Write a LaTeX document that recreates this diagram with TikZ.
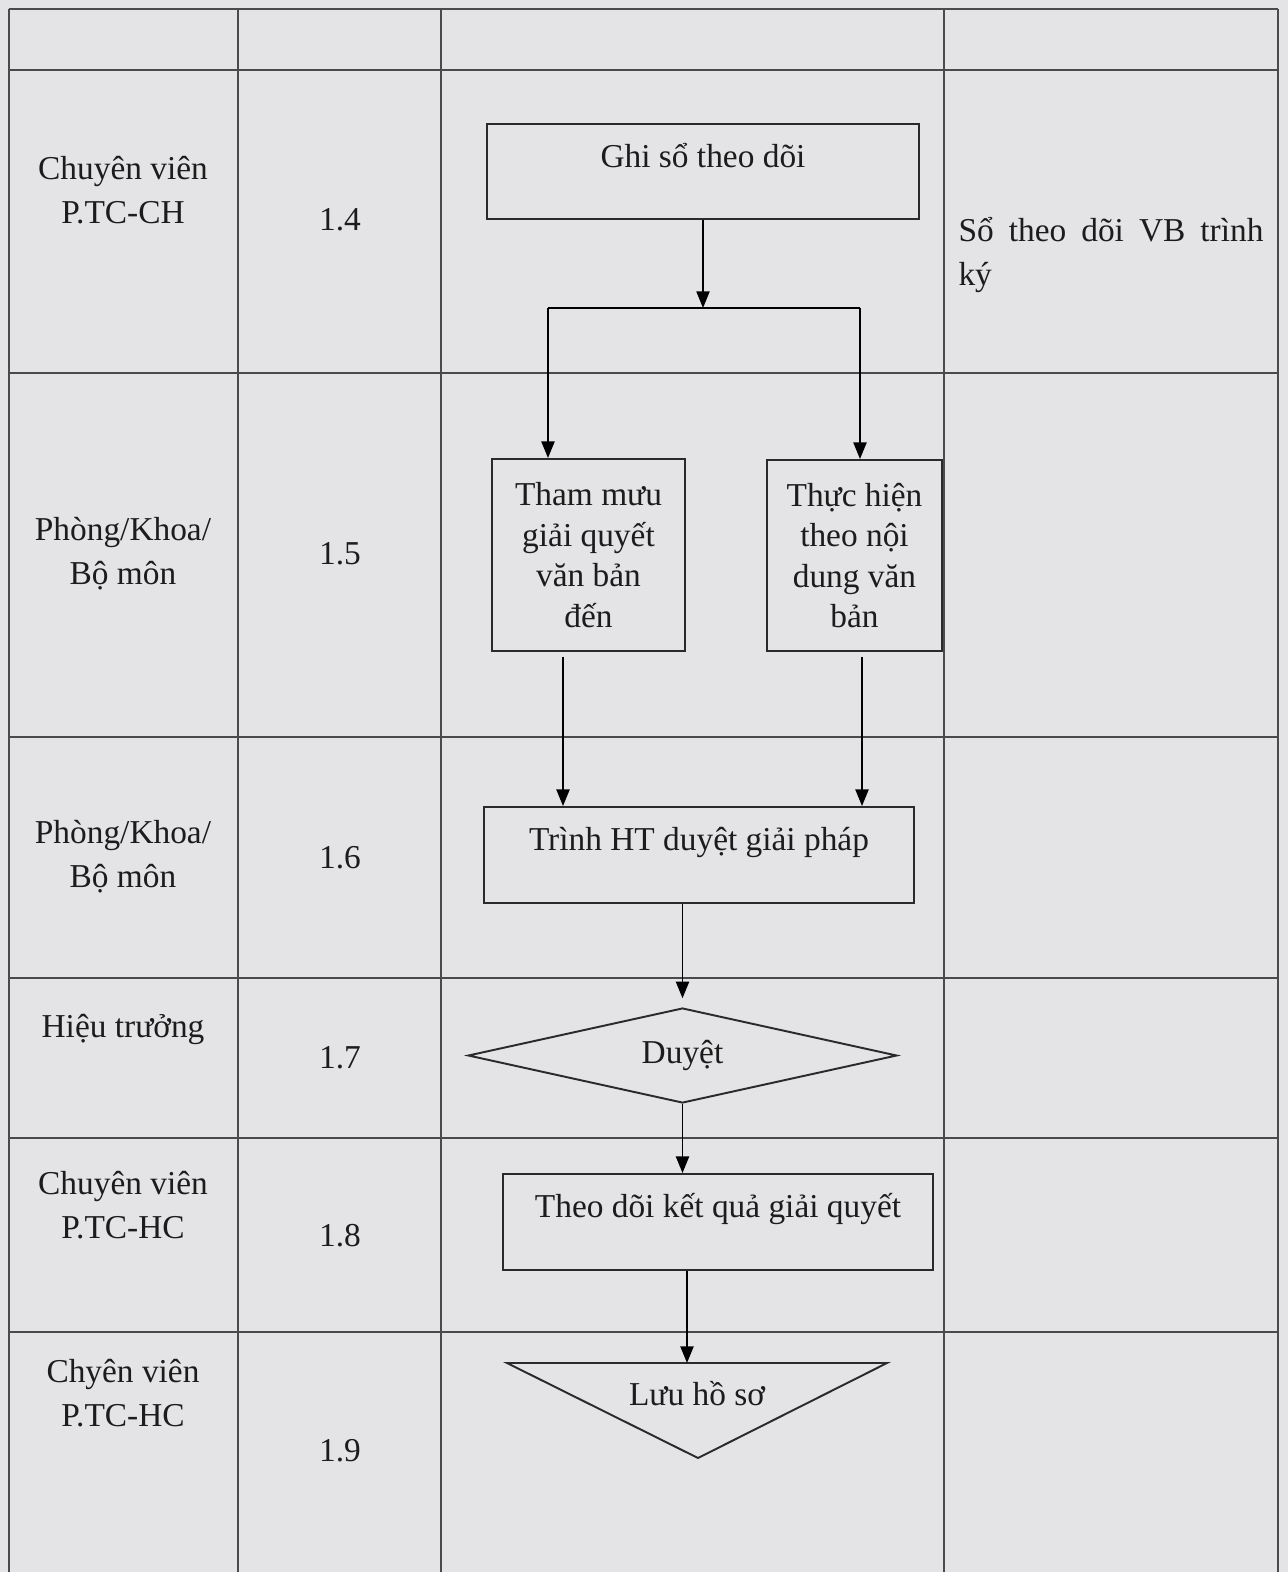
\documentclass[tikz,border=0pt]{standalone}
\usepackage{fontspec}
\setmainfont{Liberation Serif}
\usetikzlibrary{arrows.meta,positioning,shapes.geometric,calc}
\definecolor{scanbg}{HTML}{E4E4E6}
\definecolor{inkline}{HTML}{2A2A2A}
\definecolor{inktext}{HTML}{1C1C1C}
\begin{document}
\begin{tikzpicture}[x=0.02cm, y=-0.02cm,
  >={Triangle[length=9.5pt,width=7.5pt]}, line width=1pt,
  grid/.style={draw=inkline!85, line width=0.9pt},
  shp/.style={draw=inkline, line width=1.1pt},
  box/.style={shp, rectangle, align=center, inner sep=0pt, font=\fontsize{19}{23}\selectfont, text=inktext},
  topbox/.style={box, text height=13pt, text depth=18pt},
  lbl/.style={font=\fontsize{19}{25}\selectfont, align=center, text=inktext, inner sep=0pt}]
\fill[scanbg] (0,0) rectangle (1288,1572);
\useasboundingbox (0,0) rectangle (1288,1572);
% table grid
\foreach \y in {9,70,373,737,978,1138,1332} \draw[grid] (9,\y) -- (1278,\y);
\foreach \x in {9,238,441,944,1278} \draw[grid] (\x,9) -- (\x,1572);
% column 1 and 2
\node[lbl] (who4) at (123,190)  {Chuyên viên\\P.TC-CH};
\node[lbl] (who5) at (123,554)  {Phòng/Khoa/\\Bộ môn};
\node[lbl] (who6) at (123,857)  {Phòng/Khoa/\\Bộ môn};
\node[lbl] (who7) at (123,1029) {Hiệu trưởng};
\node[lbl] (who8) at (123,1205) {Chuyên viên\\P.TC-HC};
\node[lbl] (who9) at (123,1393) {Chyên viên\\P.TC-HC};
\node[lbl] (st4) at (340,220)  {1.4};
\node[lbl] (st5) at (340,554)  {1.5};
\node[lbl] (st6) at (340,858)  {1.6};
\node[lbl] (st7) at (340,1058) {1.7};
\node[lbl] (st8) at (340,1236) {1.8};
\node[lbl] (st9) at (340,1451) {1.9};
% column 4
\node[lbl, text width=6.1cm, align=justify] (doc4) at (1111,255) {Sổ theo dõi VB trình ký};
% flow
\node[topbox, minimum width=8.64cm, minimum height=1.9cm] (ghi) at (703,171.5) {Ghi sổ theo dõi};
\node[box, minimum width=3.86cm, minimum height=3.84cm] (tham) at (588.5,555) {Tham mưu\\giải quyết\\văn bản\\đến};
\node[box, minimum width=3.5cm, minimum height=3.82cm] (thuc) at (854.5,555.5) {Thực hiện\\theo nội\\dung văn\\bản};
\node[topbox, minimum width=8.6cm, minimum height=1.92cm] (trinh) at (699,855) {Trình HT duyệt giải pháp};
\node[box, diamond, aspect=4.5, minimum width=8.58cm, minimum height=1.9cm] (duyet) at (682.5,1055.5) {Duyệt};
\node[topbox, minimum width=8.6cm, minimum height=1.92cm] (theo) at (718,1222) {Theo dõi kết quả giải quyết};
\coordinate (luuL) at (507,1363);
\coordinate (luuR) at (887,1363);
\coordinate (luuB) at (698,1458);
\draw[shp] (luuL) -- (luuR) -- (luuB) -- cycle;
\node[lbl] (luu) at (697,1394) {Lưu hồ sơ};
% connectors
\coordinate (brL) at (548,308);
\coordinate (brR) at (860,308);
\coordinate (colL) at (563,0);
\coordinate (colR) at (862,0);
\coordinate (luuin) at (687,1363);
\draw[->] (ghi) -- (ghi |- brL);
\draw (brL) -- (brR);
\draw[->] (brL) -- (brL |- tham.north);
\draw[->] (brR) -- (brR |- thuc.north);
\draw[->] ([yshift=-3pt]tham.south -| colL) -- (colL |- trinh.north);
\draw[->] ([yshift=-3pt]thuc.south -| colR) -- (colR |- trinh.north);
\draw[->] (trinh.south -| duyet) -- ([yshift=5pt]duyet.north);
\draw[->] (duyet.south) -- (duyet.south |- theo.north);
\draw[->] (theo.south -| luuin) -- (luuin);
\end{tikzpicture}
\end{document}
